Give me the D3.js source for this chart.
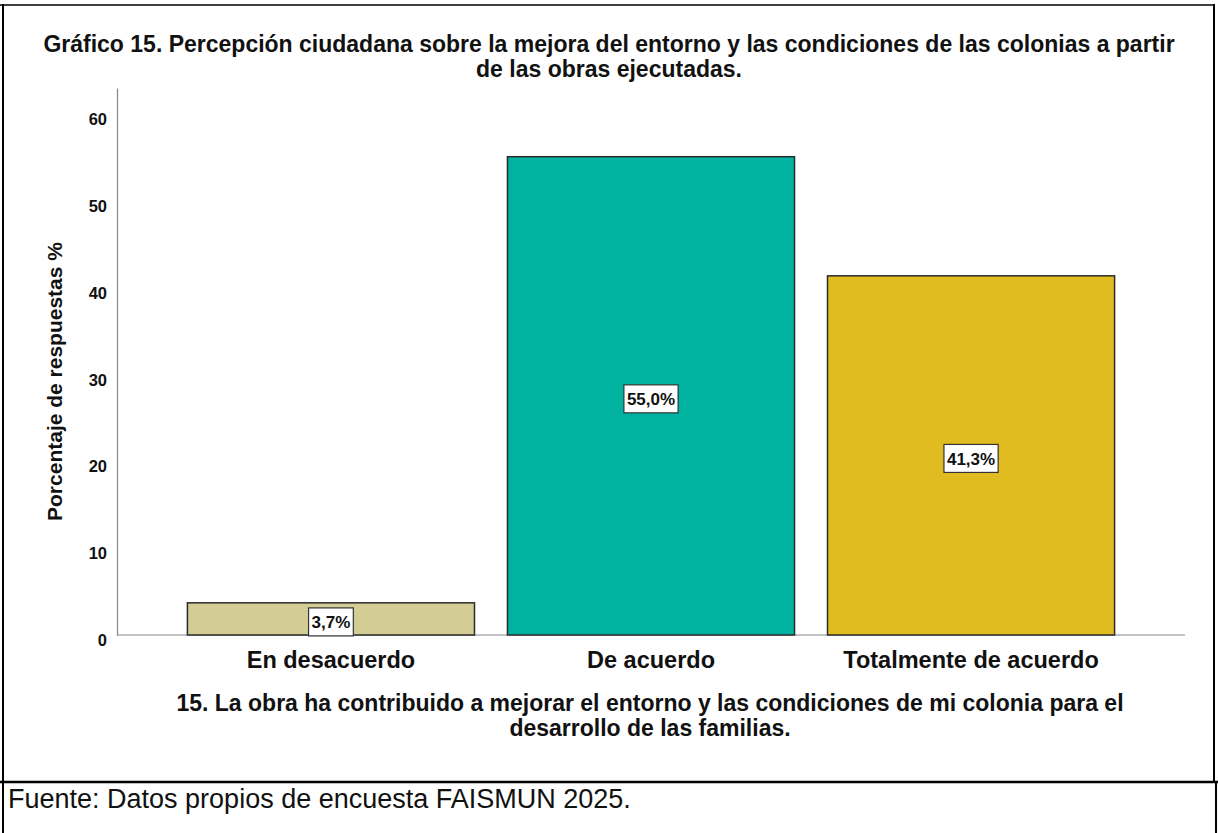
<!DOCTYPE html>
<html>
<head>
<meta charset="utf-8">
<script src="https://cdn.jsdelivr.net/npm/d3@7/dist/d3.min.js"></script>
<style>
    body { margin: 0; background: #fff; }
    text { font-family: "Liberation Sans", Arial, sans-serif; }
</style>
</head>
<body>
<div class="chart"></div>
<script>
const width = 1218;
const height = 833;
const margin = { top: 88, right: 33, bottom: 198, left: 117 };

// data
const categories = ["En desacuerdo", "De acuerdo", "Totalmente de acuerdo"];
const percents = [3.7, 55.0, 41.3];
const barColors = ["#d3cc94", "#00b3a0", "#e1bc21"];
const yTicks = [0, 10, 20, 30, 40, 50, 60];

const titleLines = [
    "Gráfico 15. Percepción ciudadana sobre la mejora del entorno y las condiciones de las colonias a partir",
    "de las obras ejecutadas."
];
const xTitleLines = [
    "15. La obra ha contribuido a mejorar el entorno y las condiciones de mi colonia para el",
    "desarrollo de las familias."
];
const yTitle = "Porcentaje de respuestas %";
const source = "Fuente: Datos propios de encuesta FAISMUN 2025.";

const data = categories.map((c, i) => ({ cat: c, pct: percents[i], color: barColors[i] }));

const svg = d3.select(".chart")
    .append("svg")
    .attr("width", width)
    .attr("height", height);

// frame like the document table
svg.append("line").attr("x1", 3).attr("x2", 3).attr("y1", 4).attr("y2", height)
    .attr("stroke", "#000").attr("stroke-width", 2);
svg.append("line").attr("x1", 1214).attr("x2", 1214).attr("y1", 4).attr("y2", 782)
    .attr("stroke", "#000").attr("stroke-width", 2);
svg.append("line").attr("x1", 1216).attr("x2", 1216).attr("y1", 782).attr("y2", height)
    .attr("stroke", "#000").attr("stroke-width", 2);
svg.append("line").attr("x1", 0).attr("x2", 1215).attr("y1", 5).attr("y2", 5)
    .attr("stroke", "#000").attr("stroke-width", 1.5);
svg.append("line").attr("x1", 0).attr("x2", width).attr("y1", 782).attr("y2", 782)
    .attr("stroke", "#000").attr("stroke-width", 2.5);

const x = d3.scaleBand()
    .domain(categories)
    .range([margin.left, width - margin.right])
    .paddingInner(0.103)
    .paddingOuter(0.22);

const y = d3.scaleLinear()
    .domain([0, 62.9])
    .range([height - margin.bottom, margin.top]);

// axes
const yAxis = d3.axisLeft(y).tickValues(yTicks).tickSize(0).tickPadding(10);
const gy = svg.append("g")
    .attr("transform", `translate(${margin.left}, 0)`)
    .call(yAxis);
gy.select(".domain").attr("stroke", "#888").attr("stroke-width", 1.2);
gy.selectAll(".tick text")
    .attr("dy", "0.66em")
    .attr("font-size", 16.5)
    .attr("font-weight", "bold")
    .attr("fill", "#111");

svg.append("line")
    .attr("x1", margin.left)
    .attr("x2", 1185)
    .attr("y1", y(0))
    .attr("y2", y(0))
    .attr("stroke", "#888")
    .attr("stroke-width", 1.2);

// bars
svg.selectAll("rect.bar")
    .data(data)
    .join("rect")
    .attr("class", "bar")
    .attr("x", d => x(d.cat))
    .attr("y", d => y(d.pct))
    .attr("width", x.bandwidth())
    .attr("height", d => y(0) - y(d.pct))
    .attr("fill", d => d.color)
    .attr("stroke", "#2b2b2b")
    .attr("stroke-width", 1.5);

// value labels in white boxes
const fmt = d => d3.format(".1f")(d).replace(".", ",") + "%";
const labels = svg.selectAll("g.lbl")
    .data(data)
    .join("g")
    .attr("class", "lbl")
    .attr("transform", d => `translate(${x(d.cat) + x.bandwidth() / 2}, ${(y(0) + y(d.pct)) / 2 + 3})`);

labels.append("rect")
    .attr("fill", "#fff")
    .attr("stroke", "#333")
    .attr("stroke-width", 1.2);

labels.append("text")
    .text(d => fmt(d.pct))
    .attr("text-anchor", "middle")
    .attr("dy", "0.36em")
    .attr("font-size", 17)
    .attr("font-weight", "bold")
    .attr("fill", "#111");

labels.each(function () {
    const g = d3.select(this);
    const bb = g.select("text").node().getBBox();
    g.select("rect")
        .attr("x", bb.x - 3)
        .attr("y", -14)
        .attr("width", bb.width + 6)
        .attr("height", 28);
});

// category labels
svg.selectAll("text.cat")
    .data(categories)
    .join("text")
    .attr("class", "cat")
    .attr("x", d => x(d) + x.bandwidth() / 2)
    .attr("y", 668)
    .attr("text-anchor", "middle")
    .attr("font-size", 23.5)
    .attr("font-weight", "bold")
    .attr("fill", "#111")
    .text(d => d);

// titles
svg.selectAll("text.title")
    .data(titleLines)
    .join("text")
    .attr("class", "title")
    .attr("x", 609)
    .attr("y", (d, i) => 52 + i * 25)
    .attr("text-anchor", "middle")
    .attr("font-size", 23)
    .attr("font-weight", "bold")
    .attr("fill", "#111")
    .text(d => d);

svg.selectAll("text.xtitle")
    .data(xTitleLines)
    .join("text")
    .attr("class", "xtitle")
    .attr("x", 650)
    .attr("y", (d, i) => 711 + i * 25)
    .attr("text-anchor", "middle")
    .attr("font-size", 23)
    .attr("font-weight", "bold")
    .attr("fill", "#111")
    .text(d => d);

svg.append("text")
    .attr("transform", `translate(62, ${(y(0) + margin.top) / 2 + 20}) rotate(-90)`)
    .attr("text-anchor", "middle")
    .attr("font-size", 21)
    .attr("font-weight", "bold")
    .attr("fill", "#111")
    .text(yTitle);

svg.append("text")
    .attr("x", 8)
    .attr("y", 808)
    .attr("font-size", 27)
    .attr("fill", "#111")
    .text(source);
</script>
</body>
</html>
